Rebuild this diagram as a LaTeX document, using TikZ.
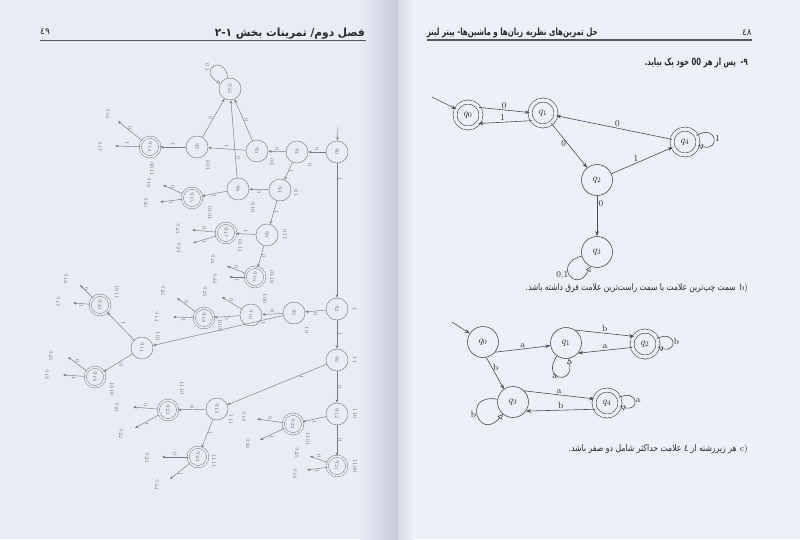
\documentclass[tikz,border=0pt]{standalone}
\usepackage{fontspec}
\usepackage{graphicx}
\usetikzlibrary{arrows.meta}
\TeXXeTstate=1
\newfontfamily\fafont[Script=Arabic]{DejaVu Sans}
\definecolor{pageR}{RGB}{238,240,248}
\definecolor{pageL}{RGB}{233,236,245}
\definecolor{gut}{RGB}{198,202,216}
\definecolor{ink}{RGB}{40,40,50}
\definecolor{lineR}{RGB}{75,77,88}
\definecolor{inkL}{RGB}{118,121,136}
\definecolor{rulec}{RGB}{85,88,100}
\newcommand\rt[1]{\rotatebox{-90}{#1}}
\newcommand\lfree[7]{%
  \coordinate (#2) at (#3);
  \draw[le] (#1) -- node[lt,#5]{\rt{#4}} (#2);
  \node[lt] (#2q) at (#6) {\rt{$q_{#7}$}};}
\tikzset{
  rs/.style={circle,draw=lineR,line width=0.6pt,minimum size=31pt,inner sep=0pt,font=\normalsize,text=ink},
  racc/.style={rs,double=pageR,double distance=3.4pt,minimum size=26pt},
  redge/.style={draw=lineR,line width=0.6pt,-{Stealth[length=5pt,width=3.6pt]}},
  rloop/.style={draw=lineR,line width=0.6pt,-{Triangle[open,length=5pt,width=5pt]}},
  rlab/.style={font=\small,text=ink,inner sep=1.2pt},
  ls/.style={circle,draw=inkL,line width=0.45pt,minimum size=22pt,inner sep=0pt,font=\fontsize{6}{7}\selectfont,text=inkL},
  la/.style={ls,double=pageL,double distance=1.8pt,minimum size=19.5pt},
  le/.style={draw=inkL,line width=0.45pt,-{Stealth[length=3.5pt,width=2.6pt]}},
  lloop/.style={draw=inkL,line width=0.45pt,-{Triangle[open,length=3.5pt,width=3.5pt]}},
  lt/.style={font=\fontsize{5.5}{6}\selectfont,text=inkL,inner sep=0.8pt},
  ptxt/.style={anchor=east,inner sep=0pt,text=ink}
}
\begin{document}
\begin{tikzpicture}[x=1pt,y=1pt]
\useasboundingbox (0,0) rectangle (800,-539);
% background pages
\fill[pageR] (0,0) rectangle (800,-539);
\fill[pageL] (0,0) rectangle (398,-539);
\shade[left color=pageL,right color=gut] (360,0) rectangle (398,-539);
\shade[left color=gut!60!pageR,right color=pageR] (398,0) rectangle (414,-539);

% ---------- headers ----------
\node[ptxt,anchor=base east] (hdrR) at (598,-35) {\resizebox{171pt}{7.5pt}{\fafont\bfseries\beginR حل تمرین‌های نظریه زبان‌ها و ماشین‌ها- پیتر لینز\endR}};
\node[ptxt,anchor=base east] (pnR) at (752,-35) {\fafont\fontsize{9}{10}\selectfont ٤٨};
\draw[rulec,line width=1.9pt] (427,-40) -- (752,-40);
\node[ptxt,anchor=base east] (hdrL) at (365,-36) {\resizebox{150pt}{8.5pt}{\fafont\bfseries\beginR فصل دوم/ تمرینات بخش \beginL ۲-۱\endL\endR}};
\node[ptxt,anchor=base west] (pnL) at (40,-34) {\fafont\fontsize{9}{10}\selectfont ٤٩};
\draw[rulec,line width=1.9pt] (40,-40.5) -- (366,-40.5);

% ---------- right page texts ----------
\node[ptxt,anchor=base east] (p9) at (748,-65) {\resizebox{103pt}{7.5pt}{\fafont\bfseries\beginR ٩-\ \ پس از هر \beginL 00\endL\ خود یک بیاید.\endR}};
\node[ptxt,anchor=base east] (pbl) at (748,-290) {\fontsize{9}{10}\selectfont b)};
\node[ptxt,anchor=base east] (pb) at ([xshift=-3pt]pbl.base west) {\resizebox{210pt}{7pt}{\fafont\beginR سمت چپ‌ترین علامت با سمت راست‌ترین علامت فرق داشته باشد.\endR}};
\node[ptxt,anchor=base east] (pcl) at (748,-451) {\fontsize{9}{10}\selectfont c)};
\node[ptxt,anchor=base east] (pc) at ([xshift=-3pt]pcl.base west) {\resizebox{168pt}{7pt}{\fafont\beginR هر زیررشته از ٤ علامت حداکثر شامل دو صفر باشد.\endR}};

% ---------- right diagram 1 ----------
\node[racc] (a0) at (468,-115) {$q_0$};
\node[racc] (a1) at (543,-113) {$q_1$};
\node[rs] (a2) at (597,-180) {$q_2$};
\node[rs] (a3) at (597,-252) {$q_3$};
\node[racc] (a4) at (685,-142) {$q_4$};
\coordinate (a0in) at (432,-97);
\draw[redge] (a0in) -- (a0);
\draw[redge] (a0.35) -- node[rlab,above]{0} (a1.178);
\draw[redge] (a1.215) -- node[rlab,above,pos=0.55]{1} (a0.-40);
\draw[redge] (a4) -- node[rlab,above,pos=0.47]{0} (a1);
\draw[redge] (a1) -- node[rlab,left,pos=0.45]{0} (a2);
\draw[redge] (a2) -- node[rlab,above,pos=0.4]{1} (a4);
\draw[redge] (a2) -- node[rlab,right,pos=0.2]{0} (a3);
\draw[rloop] (a4) to[out=30,in=-15,looseness=6,min distance=14pt] node[rlab,right]{1} (a4);
\draw[rloop] (a3) to[out=195,in=245,looseness=6,min distance=14pt] node[rlab,left]{0,1} (a3);

% ---------- right diagram 2 ----------
\node[rs] (b0) at (483,-342) {$q_0$};
\node[rs] (b1) at (566,-343) {$q_1$};
\node[racc] (b2) at (645,-344) {$q_2$};
\node[rs] (b3) at (513,-402) {$q_3$};
\node[racc] (b4) at (607,-403) {$q_4$};
\coordinate (b0in) at (452,-322);
\draw[redge] (b0in) -- (b0);
\draw[redge] (b0.-40) -- node[rlab,above]{a} (b1.190);
\draw[redge] (b1.55) -- node[rlab,above]{b} (b2.145);
\draw[redge] (b2.195) -- node[rlab,above]{a} (b1.-40);
\draw[rloop] (b2) to[out=25,in=-15,looseness=6,min distance=13pt] node[rlab,right]{b} (b2);
\draw[rloop] (b1) to[out=235,in=280,looseness=6,min distance=14pt] node[rlab,left]{a} (b1);
\draw[redge] (b0.-78) -- node[rlab,right,pos=0.3]{b} (b3.125);
\draw[redge] (b3.45) -- node[rlab,above]{a} (b4.162);
\draw[redge] (b4.208) -- node[rlab,above]{b} (b3.-35);
\draw[rloop] (b4) to[out=25,in=-15,looseness=6,min distance=13pt] node[rlab,right]{a} (b4);
\draw[rloop] (b3) to[out=170,in=230,looseness=6,min distance=14pt] node[rlab,left]{b} (b3);

% ---------- left page: rotated tree ----------
\node[ls] (L0) at (337,-152) {\rt{$q_0$}};
\node[ls] (LA) at (297,-152) {\rt{$q_1$}};
\node[ls] (LB) at (257,-151) {\rt{$q_3$}};
\node[ls] (LC) at (197,-147) {\rt{$q_7$}};
\node[la] (LD) at (150,-147) {\rt{$q_{14}$}};
\node[ls] (LE) at (230,-89) {\rt{$q_{25}$}};
\node[ls] (LG) at (280,-190) {\rt{$q_4$}};
\node[ls] (LF) at (238,-189) {\rt{$q_8$}};
\node[la] (LH) at (192,-198) {\rt{$q_{15}$}};
\node[ls] (LI) at (267,-235) {\rt{$q_9$}};
\node[la] (LJ) at (226,-233) {\rt{$q_{17}$}};
\node[la] (LK) at (255,-277) {\rt{$q_{16}$}};
\node[ls] (LL) at (337,-309) {\rt{$q_2$}};
\node[ls] (LM) at (294,-313) {\rt{$q_5$}};
\node[ls] (LN) at (251,-315) {\rt{$q_{10}$}};
\node[la] (LO) at (204,-318) {\rt{$q_{18}$}};
\node[ls] (LP) at (142,-348) {\rt{$q_{11}$}};
\node[la] (LQ) at (100,-305) {\rt{$q_{20}$}};
\node[la] (LR) at (95,-377) {\rt{$q_{19}$}};
\node[ls] (LS) at (337,-360) {\rt{$q_6$}};
\node[ls] (LT) at (217,-409) {\rt{$q_{13}$}};
\node[la] (LU) at (168,-410) {\rt{$q_{23}$}};
\node[la] (LV) at (198,-457) {\rt{$q_{24}$}};
\node[ls] (LW) at (337,-414) {\rt{$q_{12}$}};
\node[la] (LX) at (293,-424) {\rt{$q_{22}$}};
\node[la] (LY) at (337,-466) {\rt{$q_{21}$}};

\coordinate (L0in) at (338,-127);
\draw[le] (L0in) -- (L0);
\draw[le] (L0) -- node[lt,above]{\rt{0}} (LA);
\draw[le] (LA) -- node[lt,above]{\rt{0}} (LB);
\draw[le] (LB) -- node[lt,above]{\rt{1}} (LC);
\draw[le] (LC) -- node[lt,above]{\rt{1}} (LD);
\draw[le] (LC) -- node[lt,left]{\rt{0}} (LE);
\draw[le] (LB) -- node[lt,right]{\rt{0}} (LE);
\draw[le] (LF) -- node[lt,right,pos=0.25]{\rt{0}} (LE);
\draw[le] (LA) -- node[lt,right]{\rt{1}} (LG);
\draw[le] (LG) -- node[lt,below]{\rt{0}} (LF);
\draw[le] (LF) -- node[lt,below]{\rt{1}} (LH);
\draw[le] (LG) -- node[lt,right]{\rt{1}} (LI);
\draw[le] (LI) -- node[lt,above]{\rt{1}} (LJ);
\draw[le] (LI) -- node[lt,right]{\rt{0}} (LK);
\draw[le] (L0) -- node[lt,right,pos=0.12]{\rt{1}} (LL);
\draw[le] (LL) -- node[lt,below]{\rt{0}} (LM);
\draw[le] (LM) -- node[lt,above]{\rt{0}} (LN);
\draw[le] (LN) -- node[lt,below]{\rt{1}} (LO);
\draw[le] (LM) -- node[lt,below,pos=0.15]{\rt{1}} (LP);
\draw[le] (LP) -- node[lt,above right]{\rt{1}} (LQ);
\draw[le] (LP) -- node[lt,below right]{\rt{0}} (LR);
\draw[le] (LL) -- node[lt,right]{\rt{1}} (LS);
\draw[le] (LS) -- node[lt,below,pos=0.25]{\rt{1}} (LT);
\draw[le] (LT) -- node[lt,above]{\rt{0}} (LU);
\draw[le] (LT) -- node[lt,right]{\rt{1}} (LV);
\draw[le] (LS) -- node[lt,right]{\rt{0}} (LW);
\draw[le] (LW) -- node[lt,below]{\rt{1}} (LX);
\draw[le] (LW) -- node[lt,right]{\rt{0}} (LY);
\draw[lloop] (LE) to[out=100,in=150,looseness=7,min distance=10pt] (LE);
\node[lt] (LEl) at (207,-68) {\rt{0,1}};

% strings beside states
\node[lt] (sA) at (310,-165) {\rt{0}};
\node[lt] (sB) at (272,-162) {\rt{00}};
\node[lt] (sC) at (208,-166) {\rt{001}};
\node[lt] (sD) at (152,-169) {\rt{0011}};
\node[lt] (sG) at (296,-193) {\rt{01}};
\node[lt] (sF) at (253,-208) {\rt{010}};
\node[lt] (sH) at (210,-213) {\rt{0101}};
\node[lt] (sI) at (285,-235) {\rt{011}};
\node[lt] (sJ) at (240,-246) {\rt{0111}};
\node[lt] (sK) at (272,-277) {\rt{0110}};
\node[lt] (sL) at (355,-309) {\rt{1}};
\node[lt] (sM) at (307,-330) {\rt{10}};
\node[lt] (sN) at (265,-299) {\rt{100}};
\node[lt] (sO) at (220,-326) {\rt{1001}};
\node[lt] (sP) at (158,-337) {\rt{101}};
\node[lt] (sQ) at (117,-292) {\rt{1011}};
\node[lt] (sR) at (112,-389) {\rt{1010}};
\node[lt] (sS) at (355,-360) {\rt{11}};
\node[lt] (sT) at (231,-420) {\rt{111}};
\node[lt] (sU) at (182,-388) {\rt{1110}};
\node[lt] (sV) at (214,-461) {\rt{1111}};
\node[lt] (sW) at (355,-414) {\rt{110}};
\node[lt] (sX) at (308,-439) {\rt{1101}};
\node[lt] (sY) at (355,-466) {\rt{1100}};

% free arrows to other states
\lfree{LD}{fD0}{118,-121}{0}{above}{108,-114}{16}
\lfree{LD}{fD1}{115,-146}{1}{above}{100,-147}{17}
\lfree{LH}{fH0}{163,-185}{0}{above}{149,-183}{19}
\lfree{LH}{fH1}{160,-202}{1}{below}{146,-203}{20}
\lfree{LJ}{fJ0}{192,-230}{0}{above}{178,-229}{23}
\lfree{LJ}{fJ1}{193,-243}{1}{below}{179,-248}{24}
\lfree{LK}{fK0}{227,-266}{0}{above}{213,-260}{21}
\lfree{LK}{fK1}{229,-277}{1}{below}{215,-279}{22}
\lfree{LO}{fO0}{177,-298}{0}{above}{163,-291}{25}
\lfree{LO}{fO1}{173,-317}{1}{below}{157,-317}{14}
\lfree{LN}{fN0}{222,-297}{0}{above}{205,-292}{25}
\lfree{LQ}{fQ0}{80,-285}{0}{above}{66,-279}{16}
\lfree{LQ}{fQ1}{73,-303}{1}{below}{58,-302}{17}
\lfree{LR}{fR0}{68,-357}{0}{above}{51,-356}{25}
\lfree{LR}{fR1}{63,-375}{1}{below}{47,-375}{15}
\lfree{LU}{fU0}{133,-407}{0}{above}{117,-408}{21}
\lfree{LU}{fU1}{135,-428}{1}{below}{121,-434}{22}
\lfree{LV}{fV0}{162,-457}{0}{above}{147,-458}{23}
\lfree{LV}{fV1}{170,-479}{1}{below}{157,-485}{24}
\lfree{LX}{fX0}{257,-419}{0}{above}{244,-417}{19}
\lfree{LX}{fX1}{260,-440}{1}{below}{248,-444}{20}
\lfree{LY}{fY0}{310,-456}{0}{above}{297,-453}{25}
\lfree{LY}{fY1}{307,-470}{1}{below}{295,-474}{18}
\end{tikzpicture}
\end{document}
